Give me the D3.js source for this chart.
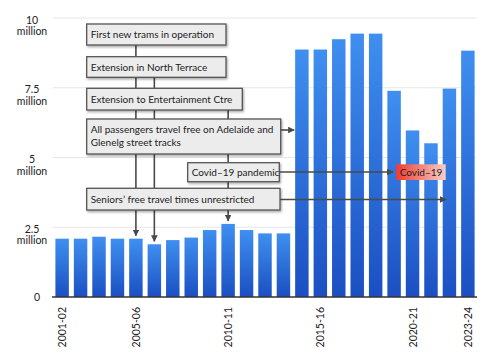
<!DOCTYPE html>
<html><head><meta charset="utf-8">
<script src="https://cdn.jsdelivr.net/npm/d3@7"></script>
<style>body{margin:0;background:#fff}svg{display:block}</style>
</head><body>
<svg id="c" width="500" height="359"></svg>
<script>
const years = ["2001-02","2002-03","2003-04","2004-05","2005-06","2006-07","2007-08","2008-09","2009-10","2010-11","2011-12","2012-13","2013-14","2014-15","2015-16","2016-17","2017-18","2018-19","2019-20","2020-21","2021-22","2022-23","2023-24"];
const passengers = [2.09,2.09,2.16,2.09,2.09,1.89,2.04,2.13,2.40,2.62,2.40,2.28,2.28,8.87,8.87,9.24,9.44,9.44,7.39,5.97,5.51,7.47,8.83];
const shownLabels = ["2001-02","2005-06","2010-11","2015-16","2020-21","2023-24"];
const yTicks = [0,2.5,5,7.5,10];
const yTickLabels = ["0","2.5|million","5|million","7.5|million","10|million"];
const notes = ["First new trams in operation","Extension in North Terrace","Extension to Entertainment Ctre","All passengers travel free on Adelaide and|Glenelg street tracks","Covid–19 pandemic","Seniors’ free travel times unrestricted"];

const svg = d3.select("#c");
const FONT = "Lato, 'Open Sans', sans-serif";
const x = d3.scaleBand().domain(years).range([53,477]).paddingInner(0.27).paddingOuter(0.13);
const y = d3.scaleLinear().domain([0,10]).range([297,18]);

const defs = svg.append("defs");
const g = defs.append("linearGradient").attr("id","bg").attr("x1",0).attr("y1",0).attr("x2",0).attr("y2",1);
g.append("stop").attr("offset",0).attr("stop-color","#3f8ff0");
g.append("stop").attr("offset",1).attr("stop-color","#1b4fc2");
const rg = defs.append("linearGradient").attr("id","rg").attr("x1",0).attr("y1",0).attr("x2",1).attr("y2",0);
rg.append("stop").attr("offset",0).attr("stop-color","#f03a30");
rg.append("stop").attr("offset",1).attr("stop-color","#f6cfc8");
const sh = defs.append("filter").attr("id","sh").attr("x","-10%").attr("y","-20%").attr("width","130%").attr("height","160%");
sh.append("feDropShadow").attr("dx",1).attr("dy",1.5).attr("stdDeviation",1.2).attr("flood-color","#000").attr("flood-opacity",0.35);
const mk = defs.append("marker").attr("id","ah").attr("viewBox","0 0 10 10").attr("refX",9).attr("refY",5)
  .attr("markerWidth",4.2).attr("markerHeight",4.2).attr("orient","auto").attr("markerUnits","strokeWidth");
mk.append("path").attr("d","M0,0L10,5L0,10z").attr("fill","#4a4a4a");

// gridlines
svg.append("g").selectAll("line").data(yTicks.slice(1)).join("line")
  .attr("x1",53).attr("x2",476).attr("y1",d=>y(d)).attr("y2",d=>y(d))
  .attr("stroke","#e6e6e6").attr("stroke-width",1);

// y labels
const yl = svg.append("g").attr("font-family",FONT).attr("font-size",10.5).attr("fill","#222");
yTicks.forEach((t,i)=>{
  const parts = yTickLabels[i].split("|");
  if(parts.length===1){
    yl.append("text").attr("x",37).attr("y",y(t)+4).attr("text-anchor","middle").text(parts[0]);
  } else {
    const tx = yl.append("text").attr("text-anchor","middle");
    tx.append("tspan").attr("x",32).attr("y",y(t)+5.5).text(parts[0]);
    tx.append("tspan").attr("x",32).attr("y",y(t)+17).text(parts[1]);
  }
});

// bars
svg.append("g").selectAll("rect").data(years).join("rect")
  .attr("x",d=>x(d)).attr("width",x.bandwidth())
  .attr("y",(d,i)=>y(passengers[i])).attr("height",(d,i)=>y(0)-y(passengers[i]))
  .attr("fill","url(#bg)");

// axis line
svg.append("line").attr("x1",52).attr("x2",477).attr("y1",297).attr("y2",297).attr("stroke","#333").attr("stroke-width",1.3);

// x labels
svg.append("g").attr("font-family",FONT).attr("font-size",10.5).attr("fill","#222")
  .selectAll("text").data(shownLabels).join("text")
  .attr("transform",d=>`translate(${x(d)+x.bandwidth()/2+4},307) rotate(-90)`)
  .attr("text-anchor","end").text(d=>d);

// annotation connectors
const cx = d => x(d)+x.bandwidth()/2;
const val = d => passengers[years.indexOf(d)];
const lineG = svg.append("g").attr("stroke","#4a4a4a").attr("stroke-width",1.6).attr("fill","none");
lineG.append("line").attr("x1",cx("2005-06")).attr("x2",cx("2005-06")).attr("y1",45).attr("y2",y(val("2005-06"))-3).attr("marker-end","url(#ah)");
lineG.append("line").attr("x1",cx("2006-07")).attr("x2",cx("2006-07")).attr("y1",77).attr("y2",y(val("2006-07"))-3).attr("marker-end","url(#ah)");
lineG.append("line").attr("x1",cx("2010-11")).attr("x2",cx("2010-11")).attr("y1",110).attr("y2",y(val("2010-11"))-3).attr("marker-end","url(#ah)");

// boxes
const boxes = [
  {t:notes[0], x0:86.7, x1:226, y0:24, y1:45},
  {t:notes[1], x0:86.7, x1:226, y0:56.7, y1:77.3},
  {t:notes[2], x0:86.7, x1:242.3, y0:88.3, y1:110},
  {t:notes[3], x0:86.7, x1:280.7, y0:119, y1:154},
  {t:notes[4], x0:187.7, x1:279.3, y0:162.7, y1:181.7},
  {t:notes[5], x0:86.7, x1:280, y0:188.3, y1:210}
];
const bg = svg.append("g").attr("font-family",FONT).attr("font-size",10).attr("fill","#222");
boxes.forEach(b=>{
  bg.append("rect").attr("x",b.x0).attr("y",b.y0).attr("width",b.x1-b.x0).attr("height",b.y1-b.y0)
    .attr("fill","#ececec").attr("stroke","#555").attr("stroke-width",1.3).attr("filter","url(#sh)");
  const parts = b.t.split("|");
  const tx = bg.append("text");
  if(parts.length===1){
    tx.append("tspan").attr("x",b.x0+4).attr("y",(b.y0+b.y1)/2+3.5).text(parts[0]);
  } else {
    tx.append("tspan").attr("x",b.x0+4).attr("y",b.y0+14).text(parts[0]);
    tx.append("tspan").attr("x",b.x0+4).attr("y",b.y0+27).text(parts[1]);
  }
});

// horizontal arrows
const hG = svg.append("g").attr("stroke","#4a4a4a").attr("stroke-width",1.6).attr("fill","none");
hG.append("line").attr("x1",280.7).attr("x2",x("2014-15")-1).attr("y1",130).attr("y2",130).attr("marker-end","url(#ah)");
hG.append("line").attr("x1",279.3).attr("x2",393).attr("y1",172).attr("y2",172).attr("marker-end","url(#ah)");
hG.append("line").attr("x1",280).attr("x2",446).attr("y1",199.5).attr("y2",199.5).attr("marker-end","url(#ah)");

// Covid label
svg.append("rect").attr("x",396).attr("y",164.3).attr("width",49.7).attr("height",15.7).attr("fill","url(#rg)");
svg.append("text").attr("x",421).attr("y",175.5).attr("text-anchor","middle").attr("font-family",FONT).attr("font-size",10).attr("fill","#222").text("Covid–19");
</script>
</body></html>
